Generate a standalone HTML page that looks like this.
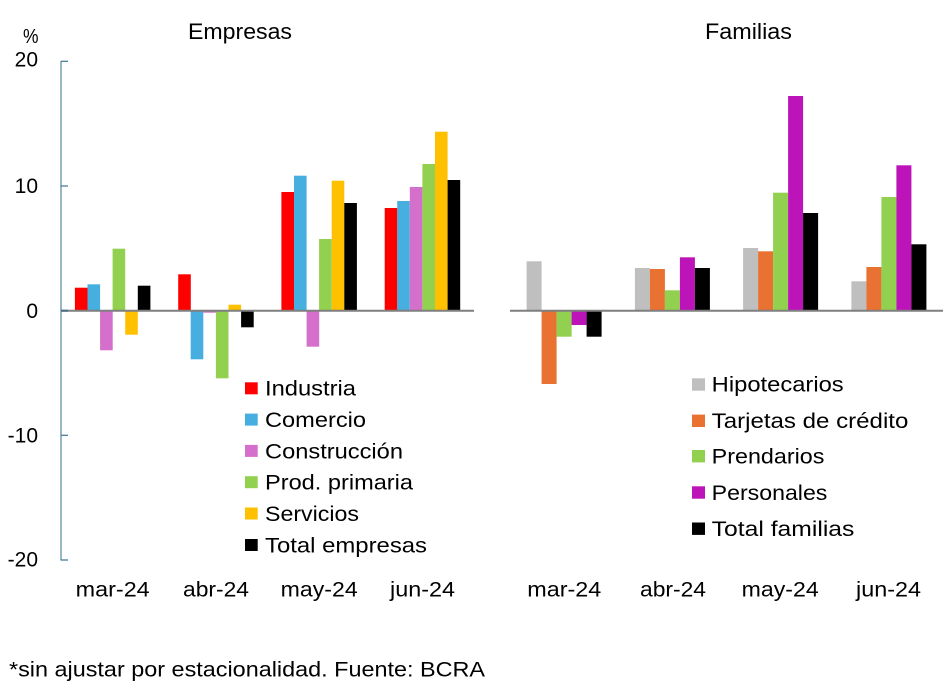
<!DOCTYPE html>
<html>
<head>
<meta charset="utf-8">
<style>
html,body{margin:0;padding:0;background:#fff;}
svg{display:block;}
text{font-family:"Liberation Sans",sans-serif;fill:#000;}
</style>
</head>
<body>
<svg width="949" height="691" viewBox="0 0 949 691" xmlns="http://www.w3.org/2000/svg">
<rect x="0" y="0" width="949" height="691" fill="#fff"/>

<!-- Titles -->
<text x="240" y="39" font-size="22" text-anchor="middle" textLength="104" lengthAdjust="spacingAndGlyphs">Empresas</text>
<text x="748.5" y="39" font-size="22" text-anchor="middle" textLength="87" lengthAdjust="spacingAndGlyphs">Familias</text>
<text x="38.5" y="43" font-size="20" text-anchor="end" textLength="15.5" lengthAdjust="spacingAndGlyphs">%</text>

<!-- Y tick labels -->
<g font-size="21" text-anchor="end">
<text x="38" y="66.7">20</text>
<text x="38" y="193">10</text>
<text x="38" y="318">0</text>
<text x="38" y="442.5">-10</text>
<text x="38" y="566.5">-20</text>
</g>

<!-- Left axis -->
<line x1="61" y1="61" x2="61" y2="560.5" stroke="#7ea3bb" stroke-width="1.6"/>
<g stroke="#4d7d9c" stroke-width="1.3">
<line x1="61" y1="61.3" x2="68" y2="61.3"/>
<line x1="61" y1="186" x2="68" y2="186"/>
<line x1="61" y1="435.3" x2="68" y2="435.3"/>
<line x1="61" y1="560" x2="68" y2="560"/>
</g>

<!-- Left bars -->
<g>
<rect x="74.9" y="287.7" width="12.6" height="23" fill="#ff0000"/>
<rect x="87.5" y="284.3" width="12.6" height="26.4" fill="#47afdf"/>
<rect x="100.1" y="310.7" width="12.6" height="39.6" fill="#d56fcc"/>
<rect x="112.6" y="248.7" width="12.6" height="62" fill="#92d050"/>
<rect x="125.2" y="310.7" width="12.6" height="24" fill="#ffc000"/>
<rect x="137.8" y="285.7" width="12.6" height="25" fill="#000"/>

<rect x="178.2" y="274.3" width="12.6" height="36.4" fill="#ff0000"/>
<rect x="190.7" y="310.7" width="12.6" height="48.6" fill="#47afdf"/>
<rect x="203.3" y="310.7" width="12.6" height="2" fill="#d56fcc"/>
<rect x="215.9" y="310.7" width="12.6" height="67.6" fill="#92d050"/>
<rect x="228.5" y="304.7" width="12.6" height="6" fill="#ffc000"/>
<rect x="241.1" y="310.7" width="12.6" height="16.6" fill="#000"/>

<rect x="281.4" y="192" width="12.6" height="118.7" fill="#ff0000"/>
<rect x="294.0" y="175.7" width="12.6" height="135" fill="#47afdf"/>
<rect x="306.6" y="310.7" width="12.6" height="36" fill="#d56fcc"/>
<rect x="319.1" y="239" width="12.6" height="71.7" fill="#92d050"/>
<rect x="331.7" y="180.7" width="12.6" height="130" fill="#ffc000"/>
<rect x="344.3" y="203" width="12.6" height="107.7" fill="#000"/>

<rect x="384.7" y="208" width="12.6" height="102.7" fill="#ff0000"/>
<rect x="397.2" y="201" width="12.6" height="109.7" fill="#47afdf"/>
<rect x="409.8" y="187" width="12.6" height="123.7" fill="#d56fcc"/>
<rect x="422.4" y="164" width="12.6" height="146.7" fill="#92d050"/>
<rect x="435.0" y="131.7" width="12.6" height="179" fill="#ffc000"/>
<rect x="447.6" y="180" width="12.6" height="130.7" fill="#000"/>
</g>

<!-- Right bars -->
<g>
<rect x="526.6" y="261.3" width="15" height="49.4" fill="#bfbfbf"/>
<rect x="541.6" y="310.7" width="15" height="73.3" fill="#e97132"/>
<rect x="556.6" y="310.7" width="15" height="26" fill="#92d050"/>
<rect x="571.6" y="310.7" width="15" height="14.3" fill="#bc14b8"/>
<rect x="586.6" y="310.7" width="15" height="26" fill="#000"/>

<rect x="634.9" y="268" width="15" height="42.7" fill="#bfbfbf"/>
<rect x="649.9" y="269" width="15" height="41.7" fill="#e97132"/>
<rect x="664.9" y="290.3" width="15" height="20.4" fill="#92d050"/>
<rect x="679.9" y="257.3" width="15" height="53.4" fill="#bc14b8"/>
<rect x="694.9" y="268" width="15" height="42.7" fill="#000"/>

<rect x="743.1" y="248" width="15" height="62.7" fill="#bfbfbf"/>
<rect x="758.1" y="251.3" width="15" height="59.4" fill="#e97132"/>
<rect x="773.1" y="192.7" width="15" height="118" fill="#92d050"/>
<rect x="788.1" y="96" width="15" height="214.7" fill="#bc14b8"/>
<rect x="803.1" y="213" width="15" height="97.7" fill="#000"/>

<rect x="851.4" y="281.3" width="15" height="29.4" fill="#bfbfbf"/>
<rect x="866.4" y="267" width="15" height="43.7" fill="#e97132"/>
<rect x="881.4" y="197" width="15" height="113.7" fill="#92d050"/>
<rect x="896.4" y="165.3" width="15" height="145.4" fill="#bc14b8"/>
<rect x="911.4" y="244.3" width="15" height="66.4" fill="#000"/>
</g>

<!-- Zero lines -->
<line x1="61" y1="310.7" x2="474" y2="310.7" stroke="#7f7f7f" stroke-width="2"/>
<line x1="61" y1="310.7" x2="68" y2="310.7" stroke="#4d6d80" stroke-width="2"/>
<line x1="510" y1="310.7" x2="943" y2="310.7" stroke="#7f7f7f" stroke-width="2"/>

<!-- X labels -->
<g font-size="21">
<text x="75.7" y="596.7" textLength="74" lengthAdjust="spacingAndGlyphs">mar-24</text>
<text x="183" y="596.7" textLength="66" lengthAdjust="spacingAndGlyphs">abr-24</text>
<text x="280.7" y="596.7" textLength="77" lengthAdjust="spacingAndGlyphs">may-24</text>
<text x="390" y="596.7" textLength="65" lengthAdjust="spacingAndGlyphs">jun-24</text>
<text x="527.3" y="596.7" textLength="74" lengthAdjust="spacingAndGlyphs">mar-24</text>
<text x="640" y="596.7" textLength="66" lengthAdjust="spacingAndGlyphs">abr-24</text>
<text x="741.7" y="596.7" textLength="77" lengthAdjust="spacingAndGlyphs">may-24</text>
<text x="856" y="596.7" textLength="65" lengthAdjust="spacingAndGlyphs">jun-24</text>
</g>

<!-- Left legend -->
<g font-size="21.5">
<rect x="245" y="382.3" width="12.7" height="12" fill="#ff0000"/>
<text x="265" y="395.7" textLength="91" lengthAdjust="spacingAndGlyphs">Industria</text>
<rect x="245" y="413.6" width="12.7" height="12" fill="#47afdf"/>
<text x="265" y="427" textLength="101" lengthAdjust="spacingAndGlyphs">Comercio</text>
<rect x="245" y="444.9" width="12.7" height="12" fill="#d56fcc"/>
<text x="265" y="458.3" textLength="138" lengthAdjust="spacingAndGlyphs">Construcción</text>
<rect x="245" y="476.2" width="12.7" height="12" fill="#92d050"/>
<text x="265" y="489.7" textLength="148" lengthAdjust="spacingAndGlyphs">Prod. primaria</text>
<rect x="245" y="507.5" width="12.7" height="12" fill="#ffc000"/>
<text x="265" y="521" textLength="94" lengthAdjust="spacingAndGlyphs">Servicios</text>
<rect x="245" y="539" width="12.7" height="12" fill="#000"/>
<text x="265" y="552.5" textLength="162" lengthAdjust="spacingAndGlyphs">Total empresas</text>
</g>

<!-- Right legend -->
<g font-size="21.5">
<rect x="692" y="378.3" width="13" height="12.4" fill="#bfbfbf"/>
<text x="711.7" y="391.7" textLength="132" lengthAdjust="spacingAndGlyphs">Hipotecarios</text>
<rect x="692" y="414.6" width="13" height="12.4" fill="#e97132"/>
<text x="711.7" y="428" textLength="196.7" lengthAdjust="spacingAndGlyphs">Tarjetas de crédito</text>
<rect x="692" y="450" width="13" height="12.4" fill="#92d050"/>
<text x="711.7" y="463.5" textLength="112.7" lengthAdjust="spacingAndGlyphs">Prendarios</text>
<rect x="692" y="486.3" width="13" height="12.4" fill="#bc14b8"/>
<text x="711.7" y="499.8" textLength="115.7" lengthAdjust="spacingAndGlyphs">Personales</text>
<rect x="692" y="522.5" width="13" height="12.4" fill="#000"/>
<text x="711.7" y="536" textLength="142.7" lengthAdjust="spacingAndGlyphs">Total familias</text>
</g>

<!-- Footnote -->
<text x="9" y="676.7" font-size="21.5" textLength="476" lengthAdjust="spacingAndGlyphs">*sin ajustar por estacionalidad. Fuente: BCRA</text>
</svg>
</body>
</html>
